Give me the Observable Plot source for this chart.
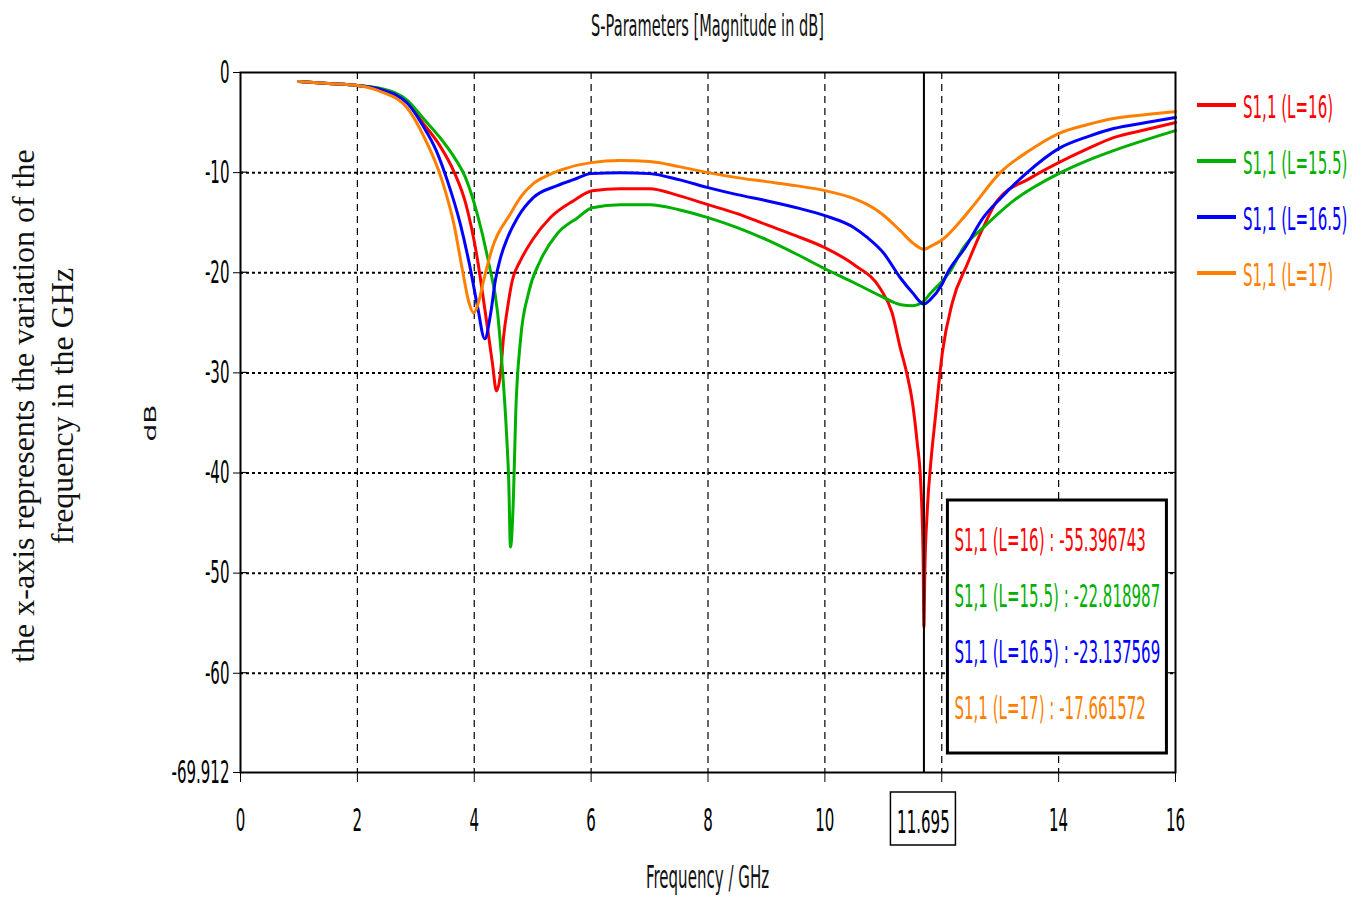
<!DOCTYPE html>
<html>
<head>
<meta charset="utf-8">
<script src="https://cdn.jsdelivr.net/npm/d3@7"></script>
<script src="https://cdn.jsdelivr.net/npm/@observablehq/plot@0.6"></script>
<style>
  body { margin: 0; background: #fff; }
  #chart svg { display: block; }
</style>
</head>
<body>
<div id="chart"></div>
<script>
// S-parameter sweeps (|S11| in dB) for four lengths L
const seriesNames = ["S1,1 (L=16)", "S1,1 (L=15.5)", "S1,1 (L=16.5)", "S1,1 (L=17)"];
const seriesColors = ["#ff0000", "#00b000", "#0000ff", "#ff8000"];

const freqL16 = [1.0,1.5,2.0,2.4,2.86,3.13,3.4,3.66,3.85,4.05,4.19,4.31,4.38,4.45,4.5,4.57,4.65,4.79,5.01,5.3,5.7,6.02,6.5,7.0,7.5,8.0,8.5,9.0,9.5,10.0,10.5,10.95,11.15,11.29,11.4,11.5,11.58,11.64,11.68,11.695,11.71,11.75,11.82,11.89,12.01,12.18,12.44,12.7,12.95,13.5,14.0,14.5,14.94,15.5,16.0];
const dbL16 = [-0.9,-1.1,-1.3,-1.7,-3.0,-5.1,-7.2,-10.0,-13.0,-18.5,-24.0,-29.0,-31.8,-30.0,-26.5,-23.5,-20.8,-18.8,-16.6,-14.5,-12.8,-11.8,-11.6,-11.6,-12.3,-13.2,-14.1,-15.2,-16.3,-17.5,-19.2,-21.6,-24.0,-27.5,-30.0,-33.0,-37.0,-41.0,-48.0,-55.396743,-50.0,-44.0,-38.5,-34.5,-28.0,-23.0,-19.1,-15.6,-12.8,-10.6,-9.0,-7.6,-6.5,-5.7,-5.0];

const freqL155 = [1.0,1.5,2.0,2.4,2.86,3.13,3.4,3.65,3.85,4.05,4.25,4.4,4.48,4.55,4.59,4.62,4.67,4.71,4.79,4.93,5.13,5.42,5.77,6.02,6.5,7.0,7.5,8.0,8.5,9.0,9.5,10.0,10.5,10.95,11.3,11.5,11.695,11.8,12.15,12.37,12.71,13.23,14.0,14.49,14.94,15.45,16.0];
const dbL155 = [-0.9,-1.1,-1.3,-1.6,-2.8,-4.6,-6.4,-8.4,-10.5,-14.1,-19.1,-24.0,-29.5,-35.8,-40.8,-47.4,-42.5,-34.0,-26.8,-22.0,-18.8,-16.1,-14.5,-13.5,-13.2,-13.2,-13.7,-14.5,-15.5,-16.7,-18.1,-19.6,-21.0,-22.3,-23.2,-23.3,-22.818987,-22.1,-19.8,-17.5,-15.5,-12.8,-10.1,-8.8,-7.8,-6.8,-5.8];

const freqL165 = [1.0,1.5,2.0,2.4,2.86,3.13,3.35,3.54,3.76,3.94,4.06,4.18,4.28,4.36,4.45,4.57,4.74,5.01,5.42,5.7,6.0,6.5,7.0,7.5,8.0,8.5,9.0,9.58,10.0,10.5,10.73,11.0,11.29,11.5,11.695,11.8,12.0,12.1,12.4,12.71,13.0,13.46,14.0,14.5,14.94,15.5,16.0];
const dbL165 = [-0.9,-1.1,-1.3,-1.7,-3.1,-5.4,-7.8,-10.8,-15.1,-19.8,-23.5,-26.6,-24.1,-20.8,-18.5,-16.5,-14.5,-12.5,-11.3,-10.7,-10.1,-10.0,-10.1,-10.7,-11.5,-12.2,-12.8,-13.6,-14.3,-15.5,-16.5,-18.0,-20.5,-22.0,-23.137569,-22.7,-21.2,-20.0,-17.5,-14.5,-12.6,-10.0,-7.6,-6.4,-5.6,-5.0,-4.5];

const freqL17 = [1.0,1.5,2.0,2.4,2.86,3.13,3.45,3.65,3.8,3.91,3.99,4.08,4.16,4.31,4.62,4.8,5.01,5.25,5.5,6.0,6.5,7.0,7.5,8.0,8.5,9.0,9.5,10.0,10.5,10.73,10.95,11.29,11.5,11.695,11.8,12.03,12.37,12.54,13.0,13.5,14.0,14.5,14.94,15.5,16.0];
const dbL17 = [-0.9,-1.1,-1.3,-1.9,-3.6,-6.3,-10.8,-15.1,-19.8,-23.0,-24.0,-22.8,-20.8,-17.5,-14.1,-12.4,-11.1,-10.3,-9.7,-9.0,-8.8,-8.9,-9.4,-10.0,-10.5,-10.9,-11.3,-11.8,-12.6,-13.2,-14.0,-15.8,-17.0,-17.661572,-17.4,-16.6,-14.5,-13.3,-10.0,-7.8,-6.1,-5.2,-4.6,-4.2,-3.9];

// Marker readout at the cursor frequency
const markerFreq = 11.695;
const markerValues = [-55.396743, -22.818987, -23.137569, -17.661572];

// Axis ticks
const xTickValues = [0, 2, 4, 6, 8, 10, 12, 14, 16];
const yTickValues = [0, -10, -20, -30, -40, -50, -60, -69.912];

const titleText = "S-Parameters [Magnitude in dB]";
const xLabelText = "Frequency / GHz";
const yLabelText = "dB";
const noteLines = ["the x-axis represents the variation of the", "frequency in the GHz"];

const freqs = [freqL16, freqL155, freqL165, freqL17];
const dbs = [dbL16, dbL155, dbL165, dbL17];
const rows = seriesNames.flatMap((name, i) =>
  freqs[i].map((f, j) => ({series: name, f, db: dbs[i][j]}))
);

const SANS = "'DejaVu Sans', Verdana, sans-serif";
const SQUISH = 0.47;

const plot = Plot.plot({
  width: 1361,
  height: 903,
  marginLeft: 240,
  marginRight: 186,
  marginTop: 72,
  marginBottom: 131,
  x: {domain: [0, 16]},
  y: {domain: [-69.912, 0]},
  color: {domain: seriesNames, range: seriesColors},
  style: {fontFamily: SANS, fontSize: "32px", color: "#000", background: "#fff"},
  marks: [
    Plot.ruleX(xTickValues.filter(v => v > 0 && v < 16), {stroke: "#000", strokeWidth: 1.2, strokeDasharray: "7,5"}),
    Plot.ruleY(yTickValues.filter(v => v < 0 && v > -69), {stroke: "#000", strokeWidth: 2, strokeDasharray: "3,3"}),
    Plot.line(rows, {x: "f", y: "db", z: "series", stroke: "series", strokeWidth: 3, curve: "monotone-x", strokeLinejoin: "round"}),
    Plot.ruleX([markerFreq], {stroke: "#000", strokeWidth: 2}),
    Plot.frame({stroke: "#000", strokeWidth: 2}),
    Plot.axisX({ticks: xTickValues, tickFormat: d => (d === 12 ? "" : String(d)), tickSize: 10, tickPadding: 26, label: null, stroke: "#000"}),
    Plot.axisY({ticks: yTickValues, tickFormat: d => String(d), tickSize: 7, tickPadding: 4, label: null, stroke: "#000"})
  ]
});

document.getElementById("chart").append(plot);

const svg = d3.select(plot);
const xs = plot.scale("x");
const ys = plot.scale("y");
const [x0, x1] = xs.range;
const [yBottom, yTop] = ys.range;
const mx = xs.apply(markerFreq);

// inner ticks on the left and right edges
const inner = svg.append("g").attr("stroke", "#000").attr("stroke-width", 1.2);
yTickValues.filter(v => v < 0 && v > -69).forEach(v => {
  const y = ys.apply(v);
  inner.append("line").attr("x1", x0).attr("x2", x0 + 7).attr("y1", y).attr("y2", y);
  inner.append("line").attr("x1", x1 - 7).attr("x2", x1).attr("y1", y).attr("y2", y);
});

// title and axis labels
svg.append("text").attr("x", (x0 + x1) / 2).attr("y", 25).attr("dy", "0.35em")
  .attr("text-anchor", "middle").attr("fill", "#111").style("font", `31px ${SANS}`).text(titleText);
svg.append("text").attr("x", (x0 + x1) / 2).attr("y", 877).attr("dy", "0.35em")
  .attr("text-anchor", "middle").attr("fill", "#111").style("font", `32px ${SANS}`).text(xLabelText);
svg.append("text").attr("class", "keep")
  .attr("transform", `translate(151,${(yTop + yBottom) / 2 + 1}) rotate(-90) scale(1,0.55)`)
  .attr("dy", "0.35em").attr("text-anchor", "middle").attr("fill", "#111")
  .style("font", `28px ${SANS}`).text(yLabelText);

// rotated note on the far left
noteLines.forEach((line, i) => {
  svg.append("text").attr("class", "keep")
    .attr("transform", `translate(${34 + i * 39},406) rotate(-90)`)
    .attr("text-anchor", "middle").attr("fill", "#111")
    .style("font", "32px 'Liberation Serif', 'Times New Roman', serif").text(line);
});

// cursor frequency label under the axis
svg.append("rect").attr("x", mx - 33).attr("y", yBottom + 20).attr("width", 65).attr("height", 53)
  .attr("fill", "#fff").attr("stroke", "#000").attr("stroke-width", 1.5);
svg.append("text").attr("x", mx).attr("y", yBottom + 50).attr("dy", "0.35em")
  .attr("text-anchor", "middle").attr("fill", "#000").style("font", `32px ${SANS}`).text(String(markerFreq));

// marker readout box
const boxTop = 500;
svg.append("rect").attr("x", mx + 24).attr("y", boxTop).attr("width", 219).attr("height", 253)
  .attr("fill", "#fff").attr("stroke", "#000").attr("stroke-width", 3);
seriesNames.forEach((name, i) => {
  svg.append("text").attr("x", mx + 31).attr("y", boxTop + 40 + i * 56).attr("dy", "0.35em")
    .attr("text-anchor", "start")
    .attr("fill", seriesColors[i]).style("font", `32px ${SANS}`)
    .text(`${name} : ${markerValues[i]}`);
});

// legend to the right of the plot
seriesNames.forEach((name, i) => {
  const y = 105 + i * 56;
  svg.append("line").attr("x1", x1 + 22).attr("x2", x1 + 61).attr("y1", y).attr("y2", y)
    .attr("stroke", seriesColors[i]).attr("stroke-width", 4);
  svg.append("text").attr("x", x1 + 68).attr("y", y + 2).attr("dy", "0.35em")
    .attr("text-anchor", "start")
    .attr("fill", seriesColors[i]).style("font", `32px ${SANS}`).text(name);
});

// narrow the sans-serif glyphs horizontally about each label's anchor
plot.querySelectorAll("text").forEach(t => {
  if (t.classList.contains("keep")) return;
  const b = t.getBBox();
  const anchor = getComputedStyle(t).textAnchor;
  const ax = anchor === "middle" ? b.x + b.width / 2 : anchor === "end" ? b.x + b.width : b.x;
  const prev = t.getAttribute("transform") || "";
  t.setAttribute("transform", `${prev} translate(${ax},0) scale(${SQUISH},1) translate(${-ax},0)`);
});
</script>
</body>
</html>
